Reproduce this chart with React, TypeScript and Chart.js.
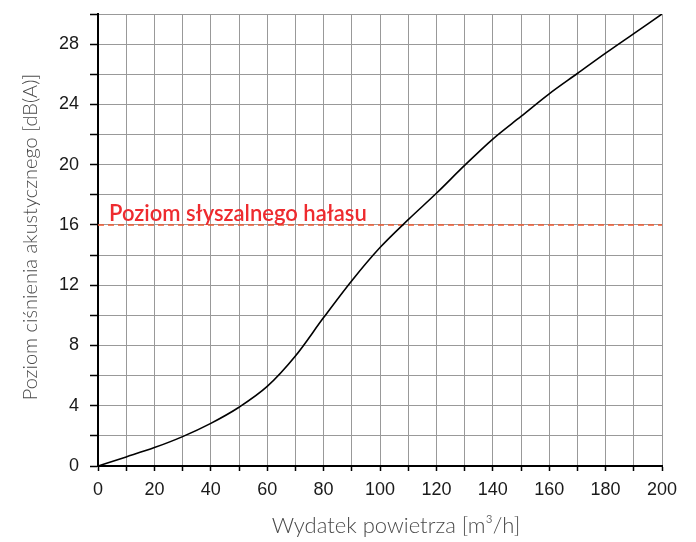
import React, { useEffect, useRef } from 'react';
import { Chart, registerables } from 'chart.js';

Chart.register(...registerables);

// Air flow [m3/h]
const flowValues = [0, 10, 20, 30, 40, 50, 60, 70, 80, 90, 100, 110, 120, 130, 140, 150, 160, 170, 180, 190, 200];
// Sound pressure level [dB(A)]
const noiseValues = [0, 0.6, 1.22, 1.95, 2.83, 3.9, 5.28, 7.3, 9.85, 12.3, 14.5, 16.35, 18.1, 19.95, 21.7, 23.2, 24.7, 26.05, 27.4, 28.7, 30];
// Audible noise threshold
const thresholdFlow = [0, 200];
const thresholdLevel = 16;
const thresholdLabel = 'Poziom słyszalnego hałasu';
const xTitle = 'Wydatek powietrza [m³/h]';
const yTitle = 'Poziom ciśnienia akustycznego [dB(A)]';
const xRange = [0, 200];
const yRange = [0, 30];

const textPlugin = {
  id: 'textPlugin',
  afterDraw(chart: any) {
    const { ctx, chartArea, scales } = chart;
    ctx.save();
    ctx.fillStyle = '#4a4a4a';
    ctx.textAlign = 'center';
    ctx.textBaseline = 'middle';
    // x title
    ctx.font = '300 22px Lato';
    ctx.fillText(xTitle, (chartArea.left + chartArea.right) / 2 + 16, chartArea.bottom + 60);
    // y title
    ctx.font = '300 20px Lato';
    ctx.save();
    ctx.translate(31, (chartArea.top + chartArea.bottom) / 2 - 3);
    ctx.rotate(-Math.PI / 2);
    ctx.fillText(yTitle, 0, 0);
    ctx.restore();
    // threshold label
    ctx.fillStyle = '#ee2b2f';
    ctx.font = '600 22px Lato';
    ctx.textAlign = 'left';
    ctx.textBaseline = 'alphabetic';
    ctx.fillText(thresholdLabel, scales.x.getPixelForValue(0) + 11, scales.y.getPixelForValue(thresholdLevel) - 4);
    ctx.restore();
  },
};

export default function App() {
  const canvasRef = useRef<HTMLCanvasElement | null>(null);

  useEffect(() => {
    const canvas = canvasRef.current;
    if (!canvas) return;
    const chart = new Chart(canvas, {
      type: 'line',
      data: {
        datasets: [
          {
            label: 'noise',
            data: flowValues.map((x, i) => ({ x, y: noiseValues[i] })),
            borderColor: '#000000',
            borderWidth: 1.6,
            pointRadius: 0,
            cubicInterpolationMode: 'monotone',
            fill: false,
          },
          {
            label: 'threshold',
            data: thresholdFlow.map((x) => ({ x, y: thresholdLevel })),
            borderColor: '#f05a30',
            borderWidth: 1.5,
            borderDash: [6, 4],
            pointRadius: 0,
            fill: false,
          },
        ],
      },
      options: {
        animation: false,
        responsive: false,
        layout: { padding: { top: 14, right: 34, left: 0, bottom: 0 } },
        plugins: {
          legend: { display: false },
          tooltip: { enabled: false },
        },
        scales: {
          x: {
            type: 'linear',
            min: xRange[0],
            max: xRange[1],
            afterFit: (s: any) => { s.height = 76; s.paddingLeft = 0; s.paddingRight = 0; },
            ticks: {
              stepSize: 10,
              autoSkip: false,
              maxRotation: 0,
              padding: 8,
              color: '#1a1a1a',
              font: { family: 'Liberation Sans', size: 18 },
              callback: (v: any) => (Number(v) % 20 === 0 ? String(v) : ''),
            },
            grid: {
              color: '#999999',
              lineWidth: 1,
              drawTicks: true,
              tickLength: 5,
              tickColor: '#000000',
              tickWidth: 1.5,
            },
            border: { color: '#000000', width: 2 },
          },
          y: {
            type: 'linear',
            min: yRange[0],
            max: yRange[1],
            afterFit: (s: any) => { s.width = 98; s.paddingTop = 0; s.paddingBottom = 0; },
            ticks: {
              stepSize: 2,
              autoSkip: false,
              padding: 11,
              color: '#1a1a1a',
              font: { family: 'Liberation Sans', size: 18 },
              callback: (v: any) => (Number(v) % 4 === 0 ? String(v) : ''),
            },
            grid: {
              color: '#999999',
              lineWidth: 1,
              drawTicks: true,
              tickLength: 8,
              tickColor: '#000000',
              tickWidth: 1.5,
            },
            border: { color: '#000000', width: 2 },
          },
        },
      },
      plugins: [textPlugin],
    });
    return () => chart.destroy();
  }, []);

  return (
    <div style={{ position: 'absolute', left: 0, top: 0, width: 696, height: 542, background: '#ffffff' }}>
      <canvas ref={canvasRef} width={696} height={542} style={{ display: 'block', width: 696, height: 542 }} />
    </div>
  );
}
